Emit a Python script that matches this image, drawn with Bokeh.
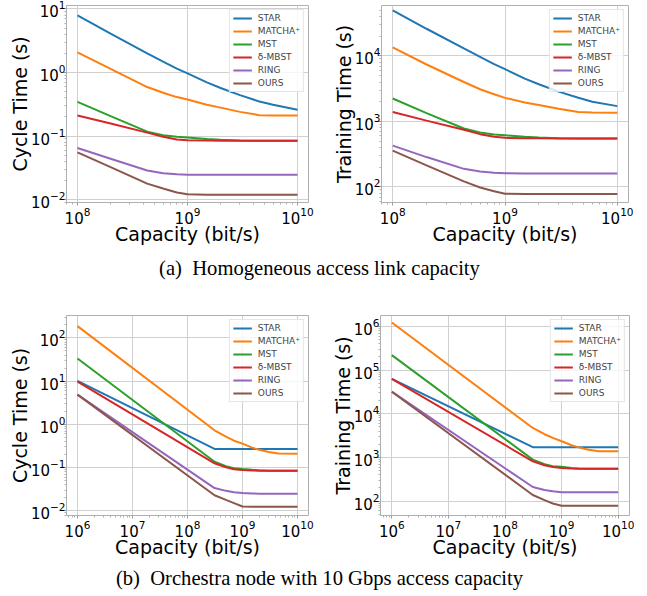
from bokeh.plotting import figure
from bokeh.models import Legend, LegendItem, Div, FixedTicker, Range1d
from bokeh.layouts import column, row
from bokeh.embed import file_html
from bokeh.resources import INLINE

names = ["STAR", "MATCHA\u207a", "MST", "\u03b4-MBST", "RING", "OURS"]
colors = ["#1f77b4", "#ff7f0e", "#2ca02c", "#d62728", "#9467bd", "#8c564b"]

# (a) homogeneous access link capacity
cap_a = [1e8, 2e8, 4.3e8, 6e8, 8e8, 1e9, 1.5e9, 2e9, 3e9, 4.5e9, 6e9, 1e10]
cyc_a_star = [7.9, 4.1, 2.0, 1.48, 1.15, 0.97, 0.70, 0.57, 0.44, 0.35, 0.31, 0.26]
cyc_a_matcha = [2.07, 1.14, 0.59, 0.48, 0.41, 0.375, 0.31, 0.28, 0.24, 0.213, 0.211, 0.211]
cyc_a_mst = [0.345, 0.206, 0.117, 0.103, 0.097, 0.095, 0.090, 0.087, 0.085, 0.084, 0.084, 0.084]
cyc_a_mbst = [0.211, 0.157, 0.113, 0.097, 0.088, 0.086, 0.085, 0.084, 0.084, 0.084, 0.084, 0.084]
cyc_a_ring = [0.0646, 0.0438, 0.0286, 0.026, 0.025, 0.0245, 0.0245, 0.0245, 0.0245, 0.0245, 0.0245, 0.0245]
cyc_a_ours = [0.0553, 0.0323, 0.0178, 0.0149, 0.0129, 0.0121, 0.0119, 0.0119, 0.0119, 0.0119, 0.0119, 0.0119]

trn_a_star = [49500, 26000, 13000, 9700, 7500, 6300, 4500, 3700, 2850, 2300, 2000, 1715]
trn_a_matcha = [13500, 7400, 4000, 3100, 2600, 2290, 1950, 1780, 1560, 1390, 1370, 1360]
trn_a_mst = [2240, 1340, 780, 680, 630, 615, 585, 570, 556, 550, 550, 550]
trn_a_mbst = [1390, 1030, 745, 640, 585, 562, 555, 552, 550, 550, 550, 550]
trn_a_ring = [427, 286, 189, 172, 165, 162, 160, 160, 160, 160, 160, 160]
trn_a_ours = [358, 214, 122, 98, 86, 79, 78, 78, 78, 78, 78, 78]

# (b) orchestra node with 10 Gbps access capacity
cap_b = [1e6, 3.1e8, 5e8, 7e8, 1e9, 1.5e9, 2e9, 3e9, 4.5e9, 1e10]
cyc_b_star = [10.2, 0.27, 0.27, 0.27, 0.27, 0.27, 0.27, 0.27, 0.27, 0.27]
cyc_b_matcha = [188, 0.73, 0.52, 0.42, 0.36, 0.29, 0.26, 0.23, 0.212, 0.21]
cyc_b_mst = [33.6, 0.137, 0.108, 0.097, 0.093, 0.089, 0.087, 0.085, 0.085, 0.085]
cyc_b_mbst = [9.8, 0.126, 0.102, 0.092, 0.088, 0.086, 0.085, 0.085, 0.085, 0.085]
cyc_b_ring = [4.9, 0.0336, 0.029, 0.027, 0.0258, 0.0252, 0.025, 0.025, 0.025, 0.025]
cyc_b_ours = [4.9, 0.0229, 0.0179, 0.0151, 0.0126, 0.0124, 0.0124, 0.0124, 0.0124, 0.0124]

trn_b_star = [63000, 1715, 1715, 1715, 1715, 1715, 1715, 1715, 1715, 1715]
trn_b_matcha = [1.23e6, 4730, 3400, 2800, 2340, 1900, 1700, 1500, 1380, 1380]
trn_b_mst = [220000, 890, 700, 630, 610, 575, 560, 552, 550, 550]
trn_b_mbst = [63000, 815, 660, 600, 575, 560, 552, 550, 550, 550]
trn_b_ring = [32000, 210, 180, 168, 160, 160, 160, 160, 160, 160]
trn_b_ours = [32000, 138, 105, 88, 78, 78, 78, 78, 78, 78]

xticks_a = [1e8, 1e9, 1e10]
xticks_b = [1e6, 1e7, 1e8, 1e9, 1e10]
yticks_cyc_a = [1e-2, 1e-1, 1e0, 1e1]
yticks_trn_a = [1e2, 1e3, 1e4]
yticks_cyc_b = [1e-2, 1e-1, 1e0, 1e1, 1e2]
yticks_trn_b = [1e2, 1e3, 1e4, 1e5, 1e6]

caption_a = "(a)&nbsp; Homogeneous access link capacity"
caption_b = "(b)&nbsp; Orchestra node with 10 Gbps access capacity"


def minors(ticks):
    out = [ticks[0] / 10 * k for k in range(2, 10)]
    for t in ticks:
        out += [t * k for k in range(2, 10)]
    return out


def make_fig(x, series, xr, yr, xt, yt, ylabel, w, h, mbl, mbr, mbt, mbb):
    p = figure(width=w, height=h, x_axis_type="log", y_axis_type="log",
               x_range=Range1d(*xr), y_range=Range1d(*yr),
               toolbar_location=None, output_backend="svg",
               min_border_left=mbl, min_border_right=mbr,
               min_border_top=mbt, min_border_bottom=mbb)
    p.outline_line_color = "#b0b0b0"
    p.outline_line_width = 1
    p.xaxis.ticker = FixedTicker(ticks=xt, minor_ticks=minors(xt))
    p.yaxis.ticker = FixedTicker(ticks=yt, minor_ticks=minors(yt))
    for ax in (p.xaxis, p.yaxis):
        ax.axis_line_color = None
        ax.major_tick_line_color = "#9a9a9a"
        ax.minor_tick_line_color = "#b0b0b0"
        ax.major_tick_out = 3
        ax.major_tick_in = 0
        ax.minor_tick_out = 2
        ax.minor_tick_in = 0
        ax.major_label_text_font = "DejaVu Sans"
        ax.major_label_text_font_size = "15px"
        ax.major_label_text_color = "#000000"
        ax.axis_label_text_font = "DejaVu Sans"
        ax.axis_label_text_font_size = "19px"
        ax.axis_label_text_font_style = "normal"
        ax.axis_label_text_color = "#000000"
    p.xaxis.major_label_standoff = 1
    p.xaxis.axis_label_standoff = -4
    p.yaxis.major_label_standoff = -2
    p.yaxis.axis_label_standoff = -3
    p.xaxis.axis_label = "Capacity (bit/s)"
    p.yaxis.axis_label = ylabel
    p.xgrid.ticker = FixedTicker(ticks=xt)
    p.ygrid.ticker = FixedTicker(ticks=yt)
    p.grid.grid_line_color = "#d0d0d0"
    p.grid.grid_line_width = 1
    items = []
    for name, col, ys in zip(names, colors, series):
        r = p.line(x, ys, line_color=col, line_width=2)
        items.append(LegendItem(label=name, renderers=[r]))
    leg = Legend(items=items, location="top_right",
                 label_text_font="DejaVu Sans", label_text_font_size="9px",
                 glyph_width=19, glyph_height=10, label_height=10,
                 label_standoff=6, spacing=3, padding=3, margin=4,
                 border_line_color="#cccccc", border_line_width=1,
                 background_fill_alpha=0.8)
    p.add_layout(leg)
    return p


p1 = make_fig(cap_a, [cyc_a_star, cyc_a_matcha, cyc_a_mst, cyc_a_mbst, cyc_a_ring, cyc_a_ours],
              (10 ** 7.9, 10 ** 10.1), (10 ** -2.047, 10 ** 1.055), xticks_a, yticks_cyc_a,
              "Cycle Time (s)", 320, 247, 66, 12, 5, 38)
p2 = make_fig(cap_a, [trn_a_star, trn_a_matcha, trn_a_mst, trn_a_mbst, trn_a_ring, trn_a_ours],
              (10 ** 7.9, 10 ** 10.1), (10 ** 1.763, 10 ** 4.77), xticks_a, yticks_trn_a,
              "Training Time (s)", 319, 247, 61, 11, 5, 38)
p3 = make_fig(cap_b, [cyc_b_star, cyc_b_matcha, cyc_b_mst, cyc_b_mbst, cyc_b_ring, cyc_b_ours],
              (10 ** 5.8, 10 ** 10.2), (10 ** -2.108, 10 ** 2.52), xticks_b, yticks_cyc_b,
              "Cycle Time (s)", 320, 279, 66, 12, 34, 38)
p4 = make_fig(cap_b, [trn_b_star, trn_b_matcha, trn_b_mst, trn_b_mbst, trn_b_ring, trn_b_ours],
              (10 ** 5.8, 10 ** 10.2), (10 ** 1.67, 10 ** 6.25), xticks_b, yticks_trn_b,
              "Training Time (s)", 319, 279, 60, 10, 32, 38)

cap_style = {"font-family": "Liberation Serif", "font-size": "20.6px", "text-align": "center",
             "color": "#000000", "width": "629px", "white-space": "nowrap"}
d1 = Div(text=caption_a, width=629, height=24,
         styles=dict(cap_style, **{"line-height": "32px"}))
d2 = Div(text=caption_b, width=629, height=18,
         styles=dict(cap_style, **{"line-height": "26px"}))

layout = column(row(p1, p2), d1, row(p3, p4), d2)

open("out.html", "w").write(file_html(layout, INLINE))
